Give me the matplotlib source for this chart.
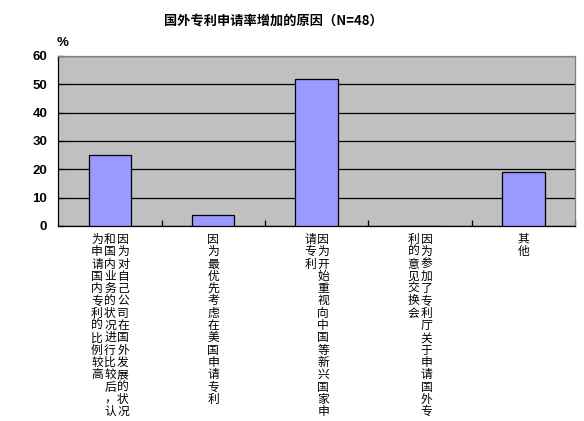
import matplotlib
matplotlib.use('Agg')
import matplotlib.pyplot as plt
from matplotlib.ticker import FixedLocator

plt.rcParams['font.family'] = ['Noto Sans CJK SC', 'DejaVu Sans']

title = '国外专利申请率增加的原因（N=48）'
reasons = [
    '因为对自己公司在国外发展的状况和国内业务的状况进行比较后，认为申请国内专利的比例较高',
    '因为最优先考虑在美国申请专利',
    '因为开始重视向中国等新兴国家申请专利',
    '因为参加了专利厅关于申请国外专利的意见交换会',
    '其他',
]
percent = [25, 4, 52, 0, 19]
y_ticks = [0, 10, 20, 30, 40, 50, 60]
chars_per_col = 15

fig = plt.figure(figsize=(5.84, 4.21), dpi=100)
ax = fig.add_axes([0.0998, 0.4632, 0.8848, 0.4038])
ax.set_facecolor('#C0C0C0')

x = list(range(len(percent)))
ax.bar(x, percent, width=0.41, color='#9999FF', edgecolor='black', linewidth=0.9, zorder=3)

ax.set_xlim(-0.5, len(percent) - 0.5)
ax.set_ylim(0, 60)
ax.set_yticks(y_ticks)
ax.set_yticklabels([str(v) for v in y_ticks], fontfamily='Liberation Sans',
                   fontweight='bold', fontsize=9.5)
ax.yaxis.grid(True, color='black', linewidth=0.9, zorder=1)
ax.set_axisbelow(True)
ax.tick_params(axis='y', direction='in', length=4, width=0.9, pad=8)

ax.set_xticks([])
ax.xaxis.set_minor_locator(FixedLocator([i + 0.5 for i in x]))
ax.tick_params(axis='x', which='minor', direction='in', length=4, width=0.9)

for side in ['left', 'bottom']:
    ax.spines[side].set_color('black')
    ax.spines[side].set_linewidth(0.9)
for side in ['top', 'right']:
    ax.spines[side].set_color('#808080')
    ax.spines[side].set_linewidth(0.9)

# vertical category labels, columns read right to left
col_gap = 13 * 0.72
row_gap = 12.3 * 0.72
for i, text in enumerate(reasons):
    cols = [text[k:k + chars_per_col] for k in range(0, len(text), chars_per_col)]
    n = len(cols)
    for c, col in enumerate(cols):
        dx = ((n - 1) / 2 - c) * col_gap
        for r, ch in enumerate(col):
            ax.annotate(ch, xy=(i, 0), xycoords=ax.get_xaxis_transform(),
                        xytext=(dx, -5 - r * row_gap), textcoords='offset points',
                        ha='center', va='top', fontsize=8.5, fontweight='medium',
                        annotation_clip=False)

fig.text(273 / 584, 1 - 20.7 / 421, title, ha='center', va='center',
         fontsize=9.5, fontweight='bold')
fig.text(57 / 584, 1 - 43 / 421, '%', ha='left', va='center',
         fontsize=9.5, fontweight='bold', fontfamily='Liberation Sans')

fig.savefig('out.png', dpi=100)
